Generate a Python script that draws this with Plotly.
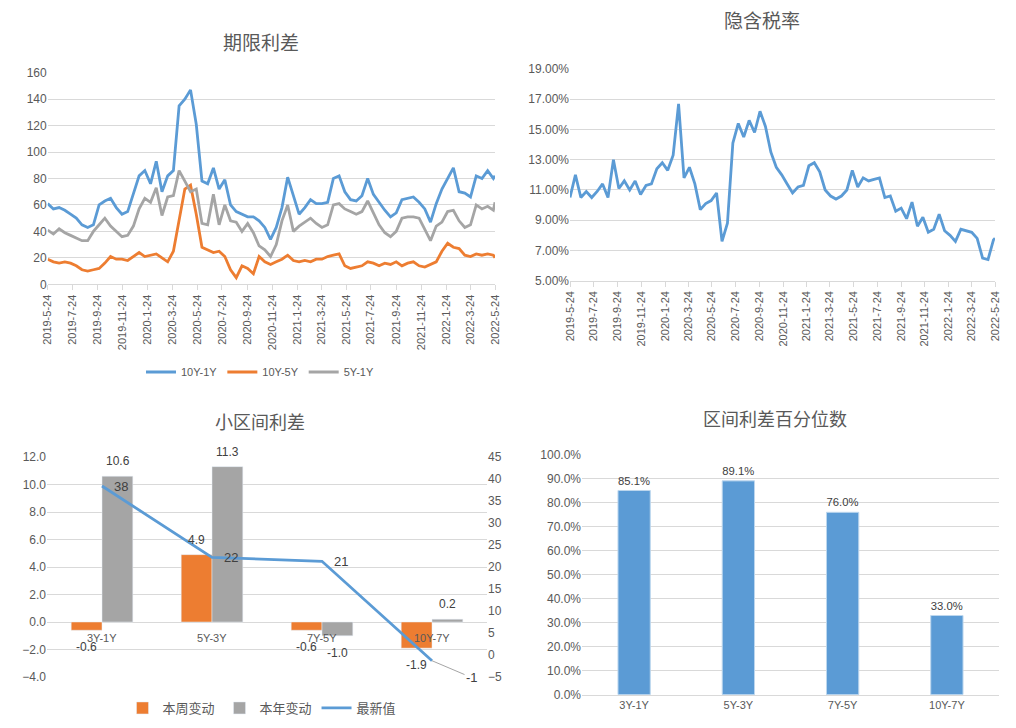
import pandas as pd
import plotly.graph_objects as go

# ---------------- data ----------------
GRID_START = "2019-05-24"      # bi-weekly sampling of the daily series
GRID_COUNT = 79
LAST_DATE = "2022-05-24"

spread_10y_1y = [61, 57, 58, 56, 53, 50, 45, 43, 45, 60,
                 63, 65, 58, 53, 55, 68, 82, 86, 76, 93,
                 70, 82, 86, 135, 140, 147, 121, 78, 76, 88,
                 72, 79, 60, 55, 53, 51, 51, 48, 43, 34,
                 43, 58, 81, 66, 53, 58, 64, 61, 61, 62,
                 80, 82, 70, 64, 63, 67, 80, 68, 62, 56,
                 51, 54, 64, 65, 66, 62, 57, 47, 61, 72,
                 80, 88, 70, 69, 66, 82, 80, 86, 80, 82]
spread_10y_5y = [19, 17, 16, 17, 16, 14, 11, 10, 11, 12,
                 16, 21, 19, 19, 18, 21, 24, 21, 22, 23,
                 20, 17, 25, 50, 72, 75, 53, 28, 26, 24,
                 25, 21, 11, 5, 14, 12, 8, 21, 17, 15,
                 17, 19, 22, 18, 17, 18, 17, 19, 19, 21,
                 22, 23, 14, 12, 13, 14, 17, 16, 14, 16,
                 15, 17, 14, 16, 17, 14, 13, 15, 17, 25,
                 31, 28, 27, 22, 21, 23, 22, 23, 22, 20]
spread_5y_1y = [41, 38, 42, 39, 37, 35, 33, 33, 40, 45,
                50, 44, 40, 36, 37, 44, 57, 65, 62, 73,
                52, 66, 67, 86, 78, 70, 72, 46, 45, 68,
                45, 60, 48, 47, 40, 46, 39, 29, 26, 21,
                30, 48, 60, 40, 44, 47, 50, 46, 43, 45,
                60, 61, 57, 55, 53, 55, 63, 54, 45, 39,
                36, 40, 50, 51, 51, 50, 42, 33, 44, 47,
                55, 56, 48, 43, 45, 60, 57, 59, 56, 62]
implied_tax_pct = [10.5, 12.0, 10.5, 10.9, 10.5, 10.9, 11.4, 10.5, 13.0, 11.1,
                   11.6, 11.0, 11.6, 10.7, 11.3, 11.4, 12.4, 12.8, 12.3, 13.3,
                   16.7, 11.8, 12.5, 11.4, 9.7, 10.1, 10.3, 10.8, 7.6, 8.8,
                   14.1, 15.4, 14.5, 15.6, 14.8, 16.2, 15.2, 13.5, 12.5, 12.0,
                   11.4, 10.8, 11.2, 11.3, 12.6, 12.8, 12.2, 11.0, 10.6, 10.4,
                   10.6, 11.0, 12.3, 11.2, 11.8, 11.6, 11.7, 11.8, 10.5, 10.6,
                   9.6, 9.8, 9.1, 10.2, 8.6, 9.2, 8.2, 8.4, 9.4, 8.3,
                   8.0, 7.6, 8.4, 8.3, 8.2, 7.8, 6.5, 6.4, 7.7, 7.8]

date_tick_labels = ["2019-5-24", "2019-7-24", "2019-9-24", "2019-11-24",
                    "2020-1-24", "2020-3-24", "2020-5-24", "2020-7-24",
                    "2020-9-24", "2020-11-24", "2021-1-24", "2021-3-24",
                    "2021-5-24", "2021-7-24", "2021-9-24", "2021-11-24",
                    "2022-1-24", "2022-3-24", "2022-5-24"]

bucket_categories = ["3Y-1Y", "5Y-3Y", "7Y-5Y", "10Y-7Y"]
weekly_change = [-0.6, 4.9, -0.6, -1.9]
ytd_change = [10.6, 11.3, -1.0, 0.2]
latest_value = [38.4, 22.2, 21.3, -1.3]
percentile = [0.851, 0.891, 0.760, 0.330]

# ---------------- styling ----------------
W, H = 1016, 728
BLUE, ORANGE, GRAY = "#5B9BD5", "#ED7D31", "#A5A5A5"
GRID = "#D9D9D9"
TXT = "#595959"
LBL = "#404040"
FONT = "Liberation Sans, Noto Sans CJK SC, sans-serif"

def px_x(p):
    return p / W

def px_y(p):
    return 1 - p / H

dates = list(pd.date_range(GRID_START, periods=GRID_COUNT, freq="14D")) + [pd.Timestamp(LAST_DATE)]
tick_dates = [pd.to_datetime(s, format="%Y-%m-%d") for s in date_tick_labels]

fig = go.Figure()

# top-left: term spreads
for name, vals, col in [("10Y-1Y", spread_10y_1y, BLUE),
                        ("10Y-5Y", spread_10y_5y, ORANGE),
                        ("5Y-1Y", spread_5y_1y, GRAY)]:
    fig.add_trace(go.Scatter(x=dates, y=vals, name=name, mode="lines",
                             line=dict(color=col, width=2.8),
                             xaxis="x", yaxis="y", legend="legend"))

# top-right: implied tax rate
fig.add_trace(go.Scatter(x=dates, y=implied_tax_pct, name="隐含税率", mode="lines",
                         line=dict(color=BLUE, width=2.8),
                         xaxis="x2", yaxis="y2", showlegend=False))

# bottom-left: small bucket spreads
BW = 0.28
fig.add_trace(go.Bar(x=bucket_categories, y=weekly_change, name="本周变动",
                     marker=dict(color=ORANGE), width=BW, offset=-BW,
                     xaxis="x3", yaxis="y3", legend="legend2"))
fig.add_trace(go.Bar(x=bucket_categories, y=ytd_change, name="本年变动",
                     marker=dict(color=GRAY), width=BW, offset=0,
                     xaxis="x3", yaxis="y3", legend="legend2"))
fig.add_trace(go.Scatter(x=bucket_categories, y=latest_value, name="最新值", mode="lines",
                         line=dict(color=BLUE, width=2.8),
                         xaxis="x3", yaxis="y4", legend="legend2", cliponaxis=False))

# bottom-right: percentile
fig.add_trace(go.Bar(x=bucket_categories, y=percentile, name="百分位数",
                     marker=dict(color=BLUE, line=dict(color="#BDD7EE", width=1)),
                     width=0.31, text=[f"{v*100:.1f}%" for v in percentile],
                     textposition="outside", textfont=dict(size=12, color=LBL),
                     cliponaxis=False, xaxis="x4", yaxis="y5", showlegend=False))

tick_font = dict(size=12, color=TXT)
date_font = dict(size=11, color=TXT)

date_axis = dict(type="date", tickvals=tick_dates, ticktext=date_tick_labels,
                 tickangle=-90, tickfont=date_font, showgrid=False,
                 showline=True, linecolor=GRID, ticks="outside", ticklen=5,
                 tickcolor=GRID, range=[pd.Timestamp(GRID_START), pd.Timestamp(LAST_DATE)],
                 zeroline=False)

annotations = []
# titles
for text, cx, cy, size in [("期限利差", 261, 41, 19), ("隐含税率", 762, 19, 19),
                           ("小区间利差", 260, 421, 18), ("区间利差百分位数", 775, 418, 18)]:
    annotations.append(dict(text=text, x=px_x(cx), y=px_y(cy), xref="paper", yref="paper",
                            showarrow=False, xanchor="center", yanchor="middle",
                            font=dict(size=size, color=TXT, family="Noto Sans CJK SC")))
# category labels drawn at the zero line of the bottom-left chart
for c in bucket_categories:
    annotations.append(dict(text=c, x=c, y=0, xref="x3", yref="y3", showarrow=False,
                            yshift=-16, font=dict(size=11, color=TXT)))
# bar value labels (outside end, like the original)
for series, shift in [(weekly_change, -15.5), (ytd_change, 15.5)]:
    for c, v in zip(bucket_categories, series):
        annotations.append(dict(text=f"{v:.1f}", x=c, y=v, xref="x3", yref="y3",
                                showarrow=False, xshift=shift,
                                yshift=15 if v >= 0 else -17,
                                font=dict(size=12, color=LBL)))
# line labels
for c, v in zip(bucket_categories[:-1], latest_value[:-1]):
    annotations.append(dict(text=f"{v:.0f}", x=c, y=v, xref="x3", yref="y4",
                            showarrow=False, xshift=19, font=dict(size=13, color=LBL)))
annotations.append(dict(text=f"{latest_value[-1]:.0f}", x=bucket_categories[-1], y=latest_value[-1],
                        xref="x3", yref="y4", showarrow=True, arrowhead=0, arrowwidth=1,
                        arrowcolor=GRAY, ax=40, ay=17, standoff=0,
                        font=dict(size=13, color=LBL)))

fig.update_layout(
    width=W, height=H, margin=dict(l=0, r=0, t=0, b=0, autoexpand=False),
    paper_bgcolor="white", plot_bgcolor="white",
    font=dict(family=FONT, color=TXT),
    barmode="overlay",
    xaxis=dict(domain=[px_x(47.7), px_x(495)], anchor="y", **date_axis),
    yaxis=dict(domain=[px_y(284.3), px_y(72.7)], anchor="x", range=[0, 160], dtick=20,
               showgrid=True, gridcolor=GRID, zeroline=False, tickfont=tick_font,
               showline=False),
    xaxis2=dict(domain=[px_x(570), px_x(995)], anchor="y2", **date_axis),
    yaxis2=dict(domain=[px_y(280.7), px_y(69)], anchor="x2", range=[5, 19], dtick=2, tick0=5,
                tickformat=".2f", ticksuffix="%", showgrid=True, gridcolor=GRID,
                zeroline=False, tickfont=tick_font),
    xaxis3=dict(domain=[px_x(47), px_x(487)], anchor="y3", type="category",
                range=[-0.5, 3.5], showticklabels=False, showgrid=False,
                showline=False, zeroline=False),
    yaxis3=dict(domain=[px_y(677), px_y(457)], anchor="x3", range=[-4, 12], dtick=2,
                tickformat=".1f", showgrid=True, gridcolor=GRID, zeroline=False,
                tickfont=tick_font),
    yaxis4=dict(overlaying="y3", side="right", anchor="x3", range=[-5, 45], dtick=5,
                showgrid=False, zeroline=False, tickfont=tick_font),
    xaxis4=dict(domain=[px_x(582), px_x(999)], anchor="y5", type="category",
                range=[-0.5, 3.5], showgrid=False, showline=True, linecolor=GRID,
                tickfont=dict(size=11, color=TXT), ticks=""),
    yaxis5=dict(domain=[px_y(694.7), px_y(454.7)], anchor="x4", range=[0, 1.0], dtick=0.1,
                tickformat=".1%", showgrid=True, gridcolor=GRID, zeroline=False,
                tickfont=tick_font),
    legend=dict(orientation="h", x=px_x(260), xanchor="center", y=px_y(372),
                yanchor="middle", font=dict(size=11, color=TXT), bgcolor="rgba(0,0,0,0)"),
    legend2=dict(orientation="h", x=px_x(262), xanchor="center", y=px_y(708),
                 yanchor="middle", font=dict(size=13, color=TXT, family="Noto Sans CJK SC"),
                 bgcolor="rgba(0,0,0,0)"),
    annotations=annotations,
)

fig.write_html("out.html",
               config={"displayModeBar": False},
               post_script="document.body.style.margin='0';document.body.style.padding='0';")
